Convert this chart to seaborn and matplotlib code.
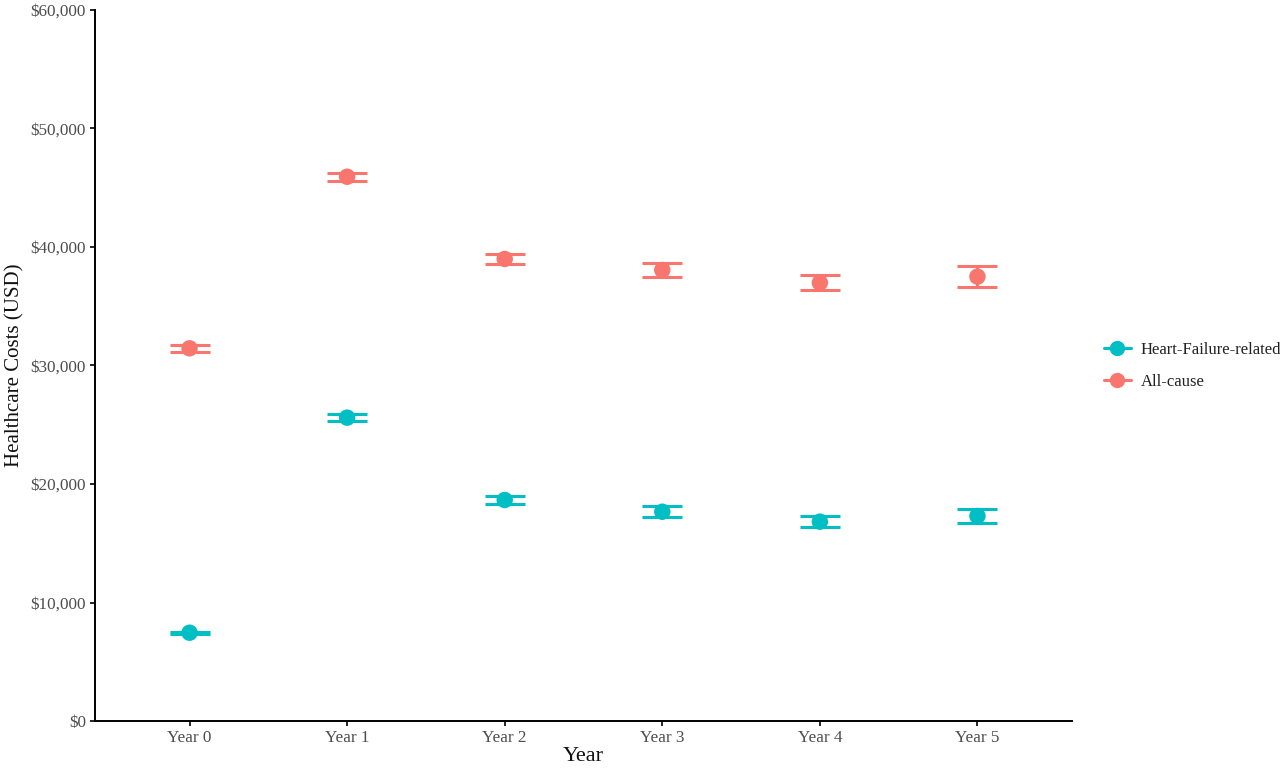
import numpy as np
import pandas as pd
import seaborn as sns
import matplotlib.pyplot as plt
from matplotlib.lines import Line2D
from matplotlib.ticker import FuncFormatter

years = ["Year 0", "Year 1", "Year 2", "Year 3", "Year 4", "Year 5"]
groups = ["Heart-Failure-related", "All-cause"]

hf_mean = [7450, 25600, 18650, 17660, 16820, 17300]
hf_low = [7350, 25330, 18300, 17210, 16370, 16700]
hf_high = [7550, 25870, 19000, 18110, 17270, 17900]

ac_mean = [31450, 45930, 38990, 38060, 36990, 37500]
ac_low = [31180, 45580, 38560, 37500, 36360, 36630]
ac_high = [31720, 46280, 39420, 38620, 37620, 38370]

colors = {"Heart-Failure-related": "#00BFC4", "All-cause": "#F8766D"}

df = pd.DataFrame({
    "Year": years * 2,
    "Group": [groups[0]] * 6 + [groups[1]] * 6,
    "Cost": hf_mean + ac_mean,
    "Low": hf_low + ac_low,
    "High": hf_high + ac_high,
})
df["x"] = df["Year"].map({y: i for i, y in enumerate(years)})

sns.set_style("white")
plt.rcParams["font.family"] = ["Liberation Serif", "DejaVu Serif"]

fig = plt.figure(figsize=(12.8, 7.7), dpi=100)
ax = fig.add_axes([95 / 1280, 49 / 770, 977 / 1280, 711 / 770])

for g in groups:
    d = df[df.Group == g]
    ax.errorbar(d["x"], d["Cost"],
                yerr=[d["Cost"] - d["Low"], d["High"] - d["Cost"]],
                fmt="none", ecolor=colors[g], elinewidth=2.2,
                capsize=14.4, capthick=2.2, zorder=2)

sns.scatterplot(data=df, x="x", y="Cost", hue="Group", palette=colors,
                s=140, edgecolor="none", legend=False, ax=ax, zorder=3)

ax.set_xlim(-0.6, 5.6)
ax.set_ylim(0, 60000)
ax.set_xticks(range(len(years)))
ax.set_xticklabels(years)
ax.set_yticks(np.arange(0, 60001, 10000))
ax.yaxis.set_major_formatter(FuncFormatter(lambda v, p: f"${v:,.0f}"))
ax.set_xlabel("Year", fontsize=16, labelpad=1, color="#111111")
ax.set_ylabel("Healthcare Costs (USD)", fontsize=15, labelpad=4, color="#111111")
ax.tick_params(axis="both", labelsize=12.3, labelcolor="#4D4D4D", length=3.5,
               width=1.2, color="black", direction="out", bottom=True, left=True,
               pad=3)
sns.despine(ax=ax)
for s in ["left", "bottom"]:
    ax.spines[s].set_color("black")
    ax.spines[s].set_linewidth(1.4)

handles = [Line2D([0], [0], color=colors[g], lw=2.2, marker="o",
                  markersize=10, label=g) for g in groups]
fig.legend(handles=handles, loc="center left",
           bbox_to_anchor=(1104 / 1280, 1 - 366 / 770), frameon=False,
           fontsize=12, handlelength=1.6, handletextpad=0.6, labelspacing=0.95,
           borderpad=0, borderaxespad=0, labelcolor="#222222")

fig.savefig("out.png", dpi=100)
